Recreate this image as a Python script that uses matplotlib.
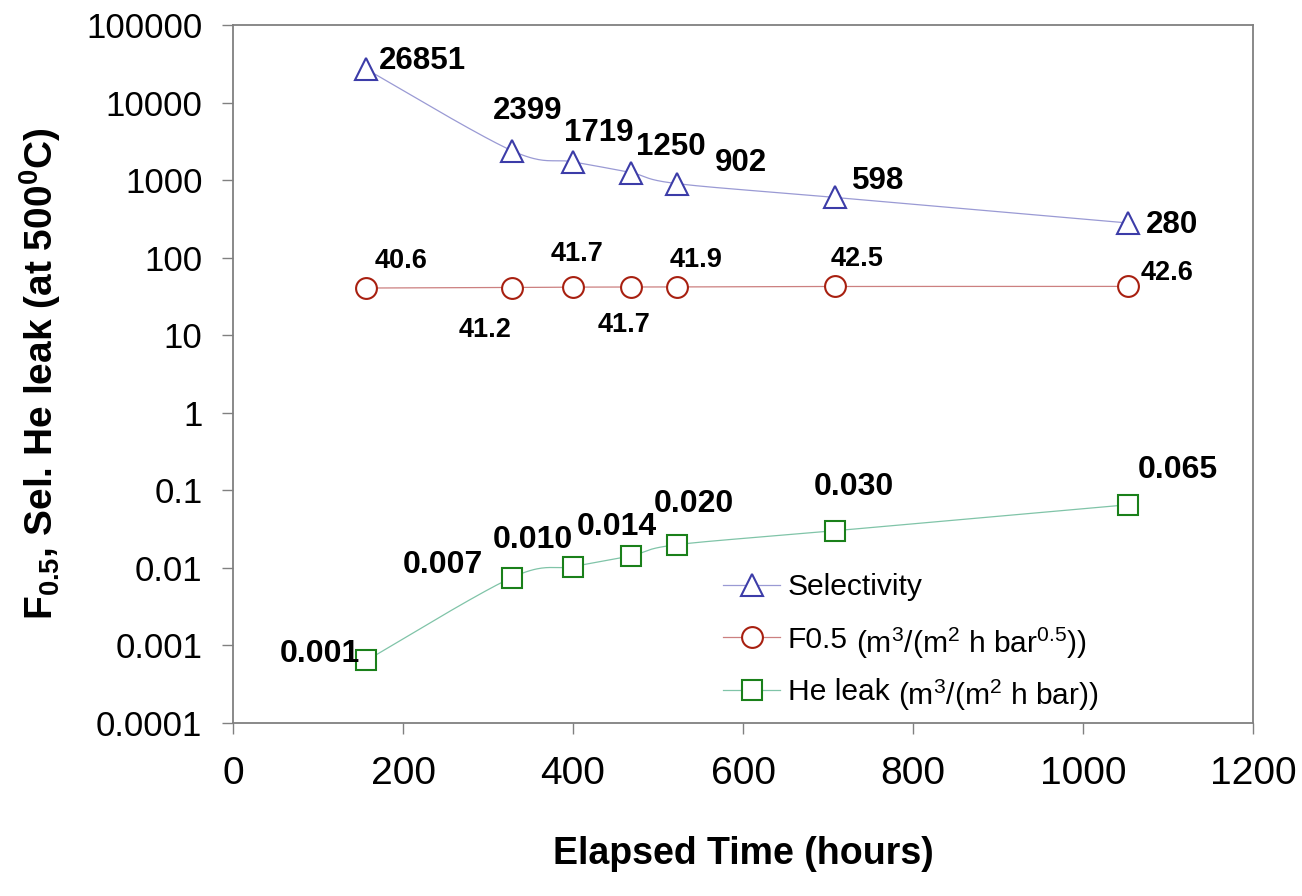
import numpy as np
import matplotlib
matplotlib.use("Agg")
import matplotlib.pyplot as plt
from matplotlib.ticker import FixedLocator, FixedFormatter, NullLocator
from matplotlib.lines import Line2D

# ---------------- data ----------------
hours = [157, 328, 400, 468, 522, 708, 1053]
selectivity = [26851, 2399, 1719, 1250, 902, 598, 280]
f05 = [40.6, 41.2, 41.7, 41.7, 41.9, 42.5, 42.6]
he_leak = [0.00064, 0.0075, 0.0104, 0.0143, 0.0199, 0.0301, 0.0652]

x_ticks = [0, 200, 400, 600, 800, 1000, 1200]
y_ticks = [1e-4, 1e-3, 1e-2, 1e-1, 1, 10, 100, 1000, 10000, 100000]
y_tick_labels = ["0.0001", "0.001", "0.01", "0.1", "1", "10", "100",
                 "1000", "10000", "100000"]

series_names = ["Selectivity", "F0.5", "He leak"]
series_units = ["", r"(m$^3$/(m$^2$ h bar$^{0.5}$))", r"(m$^3$/(m$^2$ h bar))"]

# label offsets in pixels (dx, dy) from marker to text baseline-centre
sel_off = [(56, 0), (16, 32), (26, 21), (40, 18), (64, 13), (43, 8), (44, -10)]
f_off = [(35, 20), (-27, -49), (4, 26), (-7, -45), (19, 20), (22, 20), (39, 6)]
he_off = [(-47, -2), (-69, 5), (-40, 19), (-14, 21), (17, 33), (19, 36), (50, 27)]

# ---------------- style ----------------
plt.rcParams["font.family"] = ["Liberation Sans", "DejaVu Sans"]
plt.rcParams["mathtext.fontset"] = "custom"
plt.rcParams["mathtext.rm"] = "Liberation Sans"
plt.rcParams["mathtext.it"] = "Liberation Sans"
plt.rcParams["mathtext.bf"] = "Liberation Sans:bold"

SEL_M, SEL_L = "#3c3ca8", "#9a9ad4"
F_M, F_L = "#a82010", "#cc8080"
HE_M, HE_L = "#1a801a", "#80c4a8"
SPINE = "#808080"

fig = plt.figure(figsize=(13.02, 8.96), dpi=100)
ax = fig.add_axes([233 / 1302, 1 - 723 / 896, 1020 / 1302, 698 / 896])

ax.set_xlim(0, 1200)
ax.set_yscale("log")
ax.set_ylim(1e-4, 1e5)

PX_X = 1020 / 1200.0
PX_DEC = 698 / 9.0


def smooth(xs, ys, n=40):
    """Excel-style smoothed curve through points (drawn in screen-like space)."""
    u = np.asarray(xs, float) * PX_X
    v = np.log10(np.asarray(ys, float)) * PX_DEC
    P = np.column_stack([u, v])
    out = []
    m = len(P)
    for i in range(m - 1):
        p0 = P[max(i - 1, 0)]
        p1 = P[i]
        p2 = P[i + 1]
        p3 = P[min(i + 2, m - 1)]
        c1 = p1 + (p2 - p0) / 6.0
        c2 = p2 - (p3 - p1) / 6.0
        t = np.linspace(0, 1, n)[:, None]
        seg = ((1 - t) ** 3) * p1 + 3 * ((1 - t) ** 2) * t * c1 + 3 * (1 - t) * t ** 2 * c2 + t ** 3 * p2
        out.append(seg if i == 0 else seg[1:])
    out = np.vstack(out)
    return out[:, 0] / PX_X, 10 ** (out[:, 1] / PX_DEC)


for vals, lc in [(selectivity, SEL_L), (f05, F_L), (he_leak, HE_L)]:
    sx, sy = smooth(hours, vals)
    ax.plot(sx, sy, color=lc, lw=0.9, zorder=2)

ax.plot(hours, selectivity, ls="none", marker="^", ms=16, mfc="white",
        mec=SEL_M, mew=1.5, zorder=3)
ax.plot(hours, f05, ls="none", marker="o", ms=15, mfc="white",
        mec=F_M, mew=1.5, zorder=3)
ax.plot(hours, he_leak, ls="none", marker="s", ms=15, mfc="white",
        mec=HE_M, mew=1.5, zorder=3)

for x, v, (dx, dy) in zip(hours, selectivity, sel_off):
    ax.annotate(f"{v:d}", (x, v), xytext=(dx, dy), textcoords="offset pixels",
                ha="center", va="baseline", fontsize=22.5, fontweight="bold")
for x, v, (dx, dy) in zip(hours, f05, f_off):
    ax.annotate(f"{v:.1f}", (x, v), xytext=(dx, dy), textcoords="offset pixels",
                ha="center", va="baseline", fontsize=19.5, fontweight="bold")
for x, v, (dx, dy) in zip(hours, he_leak, he_off):
    ax.annotate(f"{v:.3f}", (x, v), xytext=(dx, dy), textcoords="offset pixels",
                ha="center", va="baseline", fontsize=23, fontweight="bold")

# ---------------- axes ----------------
ax.xaxis.set_major_locator(FixedLocator(x_ticks))
ax.yaxis.set_major_locator(FixedLocator(y_ticks))
ax.yaxis.set_major_formatter(FixedFormatter(y_tick_labels))
ax.yaxis.set_minor_locator(NullLocator())
ax.xaxis.set_minor_locator(NullLocator())

for s in ax.spines.values():
    s.set_color(SPINE)
    s.set_linewidth(1.3)

ax.tick_params(axis="y", direction="out", length=8, width=1, color=SPINE,
               labelsize=25, pad=14)
ax.tick_params(axis="x", direction="out", length=8, width=1, color=SPINE,
               labelsize=28, pad=16)

ax.set_xlabel("Elapsed Time (hours)", fontsize=27, fontweight="bold")
ax.xaxis.set_label_coords(0.5, -0.162)
ax.set_ylabel(r"F$_{\mathregular{0.5}}$, Sel. He leak (at 500$^{\mathregular{0}}$C)",
              fontsize=28, fontweight="bold", va="center")
ax.yaxis.set_label_coords(-0.189, 0.5)

# ---------------- legend ----------------
handles = [
    Line2D([], [], color=SEL_L, lw=0.9, marker="^", ms=16, mfc="white", mec=SEL_M, mew=1.5),
    Line2D([], [], color=F_L, lw=0.9, marker="o", ms=15, mfc="white", mec=F_M, mew=1.5),
    Line2D([], [], color=HE_L, lw=0.9, marker="s", ms=15, mfc="white", mec=HE_M, mew=1.5),
]
leg = ax.legend(handles, series_names, loc="upper left",
                bbox_to_anchor=(723 / 1302, 1 - 573 / 896),
                bbox_transform=fig.transFigure, frameon=False, fontsize=21.6,
                handlelength=1.9, handletextpad=0.25, labelspacing=0.82,
                borderpad=0, borderaxespad=0)

fig.canvas.draw()
renderer = fig.canvas.get_renderer()
for txt, unit in zip(leg.get_texts(), series_units):
    if unit:
        bb = txt.get_window_extent(renderer)
        fig.text((bb.x1 + 9) / fig.bbox.width, (bb.y0 - 7) / fig.bbox.height,
                 unit, ha="left", va="bottom", fontsize=21.6)

fig.savefig("out.png", dpi=100, facecolor="white")
